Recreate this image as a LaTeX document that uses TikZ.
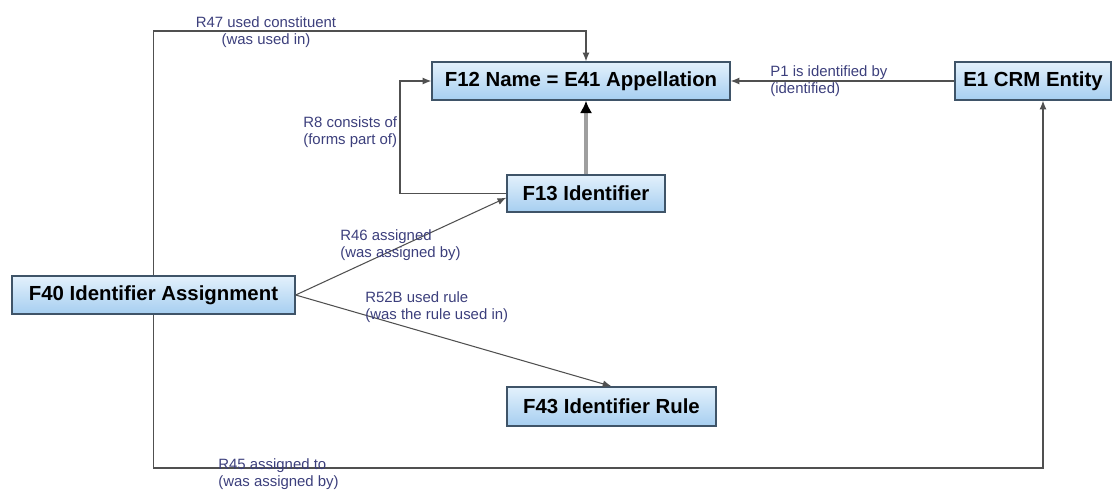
\documentclass[tikz,border=0pt]{standalone}
\usepackage{fontspec}
\setmainfont{Liberation Sans}
\usetikzlibrary{arrows.meta,shadows}

\definecolor{boxtop}{HTML}{E3F1FC}
\definecolor{boxbot}{HTML}{A6CEF0}
\definecolor{boxline}{HTML}{3F5468}
\definecolor{labtext}{HTML}{3C3F7C}
\definecolor{linegray}{HTML}{505050}

\begin{document}
\begin{tikzpicture}[x=0.02cm, y=-0.02cm,
  class/.style={draw=boxline, line width=0.8pt, top color=boxtop, bottom color=boxbot, inner sep=0pt, font=\fontsize{11.6}{13}\selectfont\bfseries, drop shadow={shadow xshift=0.8pt, shadow yshift=-0.8pt, opacity=0.35}},
  rel/.style={text=labtext, inner sep=0pt, font=\fontsize{8.5}{10}\selectfont},
  link/.style={draw=linegray, line width=0.6pt, -{Latex[length=5pt,width=4pt]}}]
  \useasboundingbox (0,0) rectangle (1113,491);
  \node [class, minimum width=5.96cm, minimum height=0.76cm] (F12) at (581, 81) {F12 Name = E41 Appellation};
  \node [class, minimum width=3.12cm, minimum height=0.76cm] (E1) at (1033, 81) {E1 CRM Entity};
  \node [class, minimum width=3.16cm, minimum height=0.74cm] (F13) at (586, 193.5) {F13 Identifier};
  \node [class, minimum width=5.66cm, minimum height=0.76cm] (F40) at (153.5, 295) {F40 Identifier Assignment};
  \node [class, minimum width=4.18cm, minimum height=0.78cm] (F43) at (611.5, 406.5) {F43 Identifier Rule};
  \coordinate (r47) at (586, 31);
  \coordinate (r8) at (400, 193.5);
  \coordinate (r45) at (1043, 468);
  \draw [link] (F40.north) |- (r47) -- (r47 |- F12.north);
  \draw [link] (E1.west) -- (F12.east);
  \draw [link] (F13.west) -- (r8) |- (F12.west);
  \draw [draw=gray!75, line width=2.4pt, -{Latex[length=7pt,width=7pt,color=black]}] (F13.north) -- (F13.north |- F12.south);
  \draw [link] (F40.east) -- (F13.183);
  \draw [link] (F40.east) -- (F43.north);
  \draw [link] (F40.south) |- (r45) -- (r45 |- E1.south);
  \node [rel, align=center] (l47) at (266, 32) {R47 used constituent\\(was used in)};
  \node [rel, align=left, anchor=west] (lp1) at (770, 81) {P1 is identified by\\(identified)};
  \node [rel, align=left, anchor=west] (l8) at (303, 132) {R8 consists of\\(forms part of)};
  \node [rel, align=left, anchor=west] (l46) at (340, 245) {R46 assigned\\(was assigned by)};
  \node [rel, align=left, anchor=west] (l52) at (365, 307) {R52B used rule\\(was the rule used in)};
  \node [rel, align=left, anchor=west] (l45) at (218, 474) {R45 assigned to\\(was assigned by)};
\end{tikzpicture}
\end{document}
